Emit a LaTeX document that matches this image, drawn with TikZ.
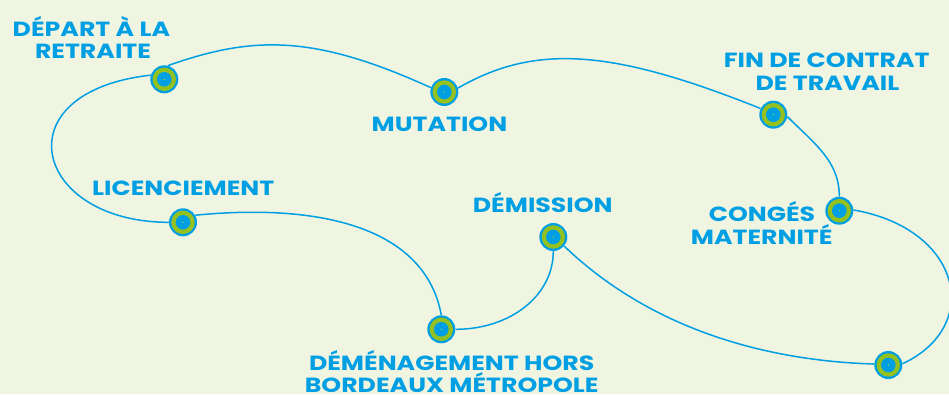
\documentclass[tikz,border=0pt]{standalone}
\usepackage{fontspec}
\setmainfont{Poppins}[FakeStretch=1.23]
\definecolor{bg}{HTML}{F0F5E2}
\definecolor{mblue}{HTML}{009FE3}
\definecolor{mgreen}{HTML}{95C11F}
\definecolor{mdot}{HTML}{E6E600}
\begin{document}
\begin{tikzpicture}[x=1pt,y=-1pt,
  marker/.style={circle,fill=mblue,minimum size=28pt,inner sep=0pt,
    path picture={
      \fill[mgreen] (path picture bounding box.center) circle (11.7pt);
      \fill[mblue] (path picture bounding box.center) circle (7.3pt);
      \fill[mdot] (path picture bounding box.center) circle (0.6pt);}},
  lbl/.style={anchor=base,inner sep=0pt,text=mblue,font=\bfseries\fontsize{20.5pt}{22pt}\selectfont},
  link/.style={draw=mblue,line width=1.5pt}]
\fill[bg] (0,0) rectangle (949,394);
\useasboundingbox (0,0) rectangle (949,394);
% markers
\node[marker] (A) at (164.3,79.3) {};
\node[marker] (B) at (444.3,92) {};
\node[marker] (C) at (773.3,114.7) {};
\node[marker] (D) at (839.3,210.7) {};
\node[marker] (E) at (888.3,365) {};
\node[marker] (F) at (553.3,237) {};
\node[marker] (G) at (441.3,329.3) {};
\node[marker] (H) at (183,222.3) {};
% connectors
\path[link] (A.75) .. controls (252.7,35.7) and (313.4,34.2) .. (B.162);
\path[link] (B.16) .. controls (535.9,43) and (613.2,49.6) .. (C.154);
\path[link] (C.352) .. controls (816,145) and (839.3,161.7) .. (D.90);
\path[link] (D.3) .. controls (961.7,228.7) and (983.3,326.3) .. (E.5);
\path[link] (F.320) .. controls (644.2,322.9) and (754,360.4) .. (E.176);
\path[link] (F.270) .. controls (553.3,295.7) and (510.3,329.3) .. (G.0);
\path[link] (H.30) .. controls (320,203) and (425.1,227.1) .. (G.90);
\path[link] (H.180) .. controls (33.3,222.3) and (0,92) .. (A.163);
% labels
\node[lbl] (tA1) at (91.5,36) {DÉPART À LA};
\node[lbl] (tA2) at (93,58.3) {RETRAITE};
\node[lbl] (tB) at (439.5,131.3) {MUTATION};
\node[lbl] (tC1) at (826.7,67.7) {FIN DE CONTRAT};
\node[lbl] (tC2) at (827.5,90) {DE TRAVAIL};
\node[lbl] (tD1) at (762,221.7) {CONGÉS};
\node[lbl] (tD2) at (761.7,244.3) {MATERNITÉ};
\node[lbl] (tH) at (183.2,195.7) {LICENCIEMENT};
\node[lbl] (tF) at (542.8,212.3) {DÉMISSION};
\node[lbl] (tG1) at (451.7,370.7) {DÉMÉNAGEMENT HORS};
\node[lbl] (tG2) at (451.7,392) {BORDEAUX MÉTROPOLE};
\end{tikzpicture}
\end{document}
